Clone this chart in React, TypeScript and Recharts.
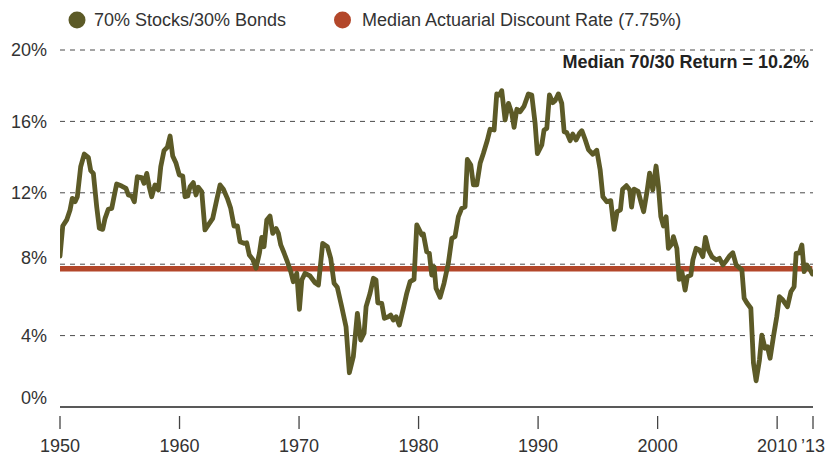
import React from 'react';
import { LineChart, Line, XAxis, YAxis, CartesianGrid } from 'recharts';

// Rolling 70/30 return (%) by decimal year
const stockBondReturns: [number, number][] = [
  [1950.0, 8.46], [1950.23, 10.14], [1950.56, 10.48], [1950.84, 11.04], [1951.03, 11.69], [1951.26, 11.5],
  [1951.45, 11.78], [1951.73, 13.46], [1952.03, 14.17], [1952.37, 13.99], [1952.57, 13.24], [1952.79, 13.09],
  [1953.07, 11.22], [1953.29, 10.01], [1953.57, 9.95], [1953.77, 10.57], [1954.04, 11.08], [1954.33, 11.13],
  [1954.52, 11.78], [1954.74, 12.49], [1955.16, 12.38], [1955.52, 12.25], [1955.72, 11.88], [1956.0, 11.82],
  [1956.22, 11.5], [1956.47, 12.9], [1956.84, 12.85], [1957.03, 12.53], [1957.26, 13.09], [1957.47, 12.31],
  [1957.67, 11.78], [1957.95, 12.44], [1958.23, 12.16], [1958.43, 13.46], [1958.7, 14.36], [1958.98, 14.55],
  [1959.21, 15.18], [1959.43, 14.06], [1959.71, 13.65], [1959.98, 13.0], [1960.27, 12.94], [1960.46, 11.78],
  [1960.69, 11.82], [1960.88, 12.34], [1961.15, 12.57], [1961.38, 11.88], [1961.57, 12.31], [1961.86, 12.06],
  [1962.13, 9.92], [1962.41, 10.2], [1962.78, 10.57], [1963.11, 11.6], [1963.39, 12.44], [1963.67, 12.2],
  [1964.0, 11.69], [1964.28, 11.13], [1964.56, 10.14], [1964.84, 10.14],
  [1965.06, 9.26], [1965.4, 9.17], [1965.62, 9.2], [1965.84, 8.52], [1966.13, 8.27], [1966.4, 7.77],
  [1966.68, 8.61], [1966.88, 9.5], [1967.07, 8.98], [1967.3, 10.48], [1967.57, 10.7], [1967.8, 9.73],
  [1968.08, 10.0], [1968.27, 9.73], [1968.47, 9.08], [1968.74, 8.64], [1969.02, 8.14], [1969.31, 7.58],
  [1969.52, 7.02], [1969.81, 7.49], [1970.03, 5.47], [1970.23, 7.11], [1970.5, 7.49], [1970.92, 7.34],
  [1971.34, 6.96], [1971.62, 6.83], [1971.98, 9.17], [1972.37, 8.98], [1972.65, 8.33], [1972.93, 6.93],
  [1973.2, 6.71], [1973.57, 5.62], [1973.93, 4.5], [1974.21, 1.92], [1974.54, 2.82], [1974.88, 5.25],
  [1975.16, 3.75], [1975.44, 4.13], [1975.61, 5.62], [1975.94, 6.37], [1976.22, 7.21], [1976.44, 7.11],
  [1976.59, 5.84], [1976.92, 5.81], [1977.14, 4.97], [1977.47, 5.06], [1977.67, 5.15], [1977.89, 4.87],
  [1978.12, 5.06], [1978.39, 4.59], [1978.73, 5.53], [1979.01, 6.37], [1979.29, 7.02], [1979.62, 7.15],
  [1979.85, 10.2], [1980.27, 9.64], [1980.4, 9.69], [1980.68, 8.7], [1980.9, 8.61], [1981.1, 7.39],
  [1981.3, 7.86], [1981.46, 6.65], [1981.8, 6.15], [1982.13, 6.93], [1982.49, 8.05], [1982.78, 9.45],
  [1983.05, 9.54], [1983.33, 10.66], [1983.61, 11.13], [1983.89, 11.22], [1984.08, 13.87], [1984.37, 13.56],
  [1984.59, 12.44], [1984.87, 12.44], [1985.15, 13.65], [1985.42, 14.2], [1985.76, 14.96], [1985.98, 15.56],
  [1986.32, 15.52], [1986.54, 17.54], [1986.76, 17.48], [1986.96, 17.72], [1987.24, 16.08], [1987.52, 17.01],
  [1987.8, 16.45], [1987.99, 15.67], [1988.22, 16.68], [1988.49, 16.54], [1988.83, 16.86], [1989.19, 17.54],
  [1989.47, 17.48], [1989.75, 15.89], [1989.94, 14.2], [1990.31, 14.68], [1990.5, 15.52], [1990.73, 15.61],
  [1990.95, 17.48], [1991.23, 17.05], [1991.42, 17.16], [1991.7, 17.54], [1991.98, 17.01], [1992.18, 15.42],
  [1992.4, 15.37], [1992.68, 14.92], [1992.9, 15.29], [1993.18, 14.96], [1993.46, 15.33], [1993.66, 15.48],
  [1993.93, 15.0], [1994.21, 14.42], [1994.58, 14.16], [1994.91, 14.38], [1995.19, 13.3], [1995.42, 11.78],
  [1995.75, 11.5], [1996.08, 11.56], [1996.36, 9.95], [1996.61, 10.95], [1996.89, 11.05], [1997.07, 12.2],
  [1997.39, 12.4], [1997.67, 12.16], [1997.82, 11.2], [1998.03, 12.2], [1998.37, 12.08], [1998.62, 11.45],
  [1998.83, 10.94], [1999.12, 12.1], [1999.33, 13.1], [1999.6, 12.16], [1999.87, 13.5], [2000.07, 12.34],
  [2000.27, 10.66], [2000.49, 10.14], [2000.71, 10.66], [2000.9, 8.89], [2001.19, 9.13], [2001.32, 9.54],
  [2001.61, 8.89], [2001.8, 7.15], [2002.03, 7.58], [2002.3, 6.55], [2002.49, 7.3], [2002.78, 7.39],
  [2002.95, 8.24], [2003.22, 8.89], [2003.5, 8.8], [2003.78, 8.42], [2004.0, 9.5], [2004.25, 8.8],
  [2004.54, 8.42], [2004.9, 8.24], [2005.17, 8.33], [2005.46, 7.96], [2005.79, 8.24], [2006.01, 8.46],
  [2006.29, 8.64], [2006.57, 7.96], [2007.05, 7.68], [2007.24, 6.09], [2007.46, 5.84], [2007.8, 5.53],
  [2008.02, 2.45], [2008.24, 1.47], [2008.52, 2.63], [2008.72, 4.03], [2008.99, 3.29], [2009.19, 3.38],
  [2009.41, 2.73], [2009.69, 3.94], [2009.97, 5.06], [2010.19, 6.18], [2010.48, 5.99], [2010.86, 5.62],
  [2011.15, 6.46], [2011.42, 6.74], [2011.59, 8.61], [2011.87, 8.64], [2012.07, 9.08], [2012.26, 7.58],
  [2012.48, 7.96], [2012.76, 7.68], [2012.95, 7.45],
];

const discountRate = 7.75;
const xTicks = [1950, 1960, 1970, 1980, 1990, 2000, 2010, 2013];
const yTicks = [0, 4, 8, 12, 16, 20];
const gridValues = [4, 8, 12, 16, 20];
const seriesNames = ['70% Stocks/30% Bonds', 'Median Actuarial Discount Rate (7.75%)'];
const medianLabel = 'Median 70/30 Return = 10.2%';

const GREEN = '#5c5a27';
const RED = '#b3472a';
const TEXT = '#333333';
const FONT = '"Liberation Sans", Arial, Helvetica, sans-serif';

const data = stockBondReturns.map(([year, value]) => ({ year, value, rate: discountRate }));

const fmtYear = (v: number) => (v === 2013 ? '\u201913' : String(v));

const XTick = (props: any) => {
  const { x, y, payload } = props;
  return (
    <g>
      <line x1={x} x2={x} y1={y + 9} y2={y + 22} stroke="#444" strokeWidth={1.3} />
      <text x={x} y={y + 45} textAnchor="middle" fill={TEXT} fontSize={18} fontFamily={FONT}>
        {fmtYear(payload.value)}
      </text>
    </g>
  );
};

const YTick = (props: any) => {
  const { x, y, payload } = props;
  const v = payload.value;
  const shift = v === 0 ? -9 : v === 8 ? -7 : 0;
  return (
    <text x={x} y={y + shift} dy="0.355em" textAnchor="end" fill={TEXT} fontSize={18} fontFamily={FONT}>
      {`${v}%`}
    </text>
  );
};

export default function App() {
  return (
    <div style={{ position: 'absolute', left: 0, top: 0, width: 827, height: 455, background: '#fff', fontFamily: FONT }}>
      <LineChart width={827} height={455} data={data} margin={{ top: 50, right: 14, left: 0, bottom: 0 }}>
        <CartesianGrid
          vertical={false}
          horizontalValues={gridValues}
          stroke="#4a4a4a"
          strokeDasharray="5 5"
          strokeWidth={1}
        />
        <XAxis
          type="number"
          dataKey="year"
          domain={[1950, 2013]}
          ticks={xTicks}
          height={48}
          tickSize={0}
          tickMargin={0}
          tickLine={false}
          axisLine={{ stroke: '#222', strokeWidth: 1.5 }}
          tick={<XTick />}
          interval={0}
          allowDataOverflow
        />
        <YAxis
          type="number"
          domain={[0, 20]}
          ticks={yTicks}
          width={60}
          axisLine={false}
          tickLine={false}
          tickSize={0}
          tickMargin={13}
          tick={<YTick />}
          interval={0}
        />
        <Line
          dataKey="rate"
          stroke={RED}
          strokeWidth={5.5}
          dot={false}
          activeDot={false}
          isAnimationActive={false}
          strokeLinecap="butt"
        />
        <Line
          dataKey="value"
          type="linear"
          stroke={GREEN}
          strokeWidth={4.8}
          strokeLinejoin="round"
          strokeLinecap="round"
          dot={false}
          activeDot={false}
          isAnimationActive={false}
        />
      </LineChart>
      <svg width={827} height={455} style={{ position: 'absolute', left: 0, top: 0, pointerEvents: 'none' }}>
        <circle cx={77} cy={20} r={8.5} fill={GREEN} />
        <text x={94} y={26} fontSize={18} fill={TEXT} fontFamily={FONT}>{seriesNames[0]}</text>
        <circle cx={342.5} cy={20} r={8.5} fill={RED} />
        <text x={362} y={26} fontSize={18} fill={TEXT} fontFamily={FONT}>{seriesNames[1]}</text>
        <text x={809} y={68} fontSize={18} fontWeight="bold" fill="#222" textAnchor="end" fontFamily={FONT}>
          {medianLabel}
        </text>
      </svg>
    </div>
  );
}
